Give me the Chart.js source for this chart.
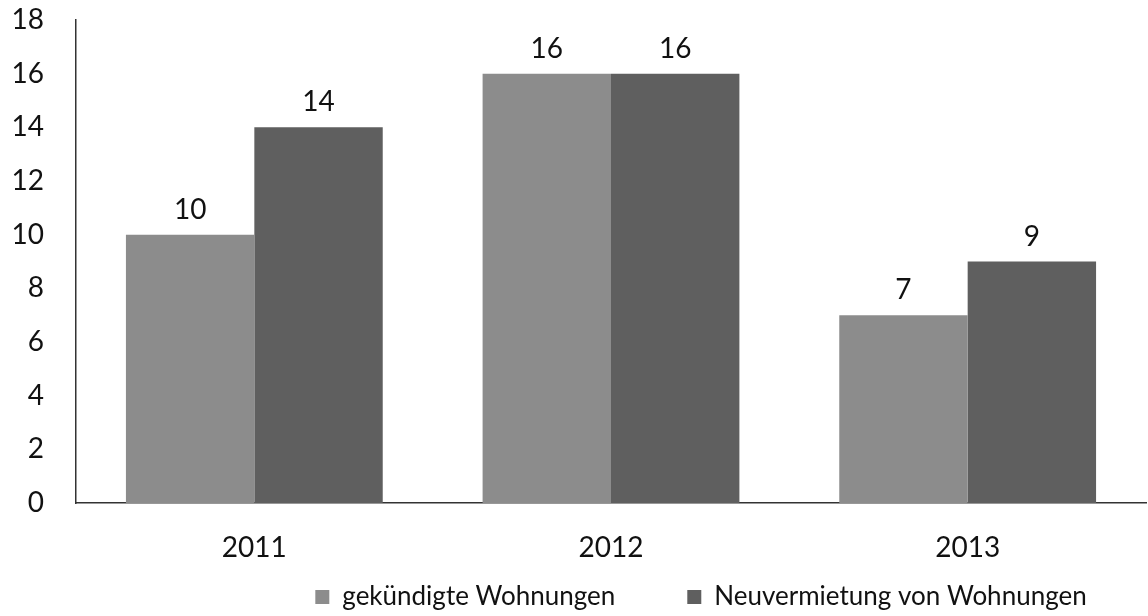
<!DOCTYPE html>
<html>
<head>
<meta charset="utf-8">
<script src="https://cdn.jsdelivr.net/npm/chart.js@4"></script>
<style>
  html, body { margin: 0; padding: 0; background: #fff; }
  #wrap { width: 1148px; height: 616px; }
</style>
</head>
<body>
<div id="wrap"><canvas id="chart"></canvas></div>
<script>
const years = ['2011', '2012', '2013'];
const gekuendigt = [10, 16, 7];
const neuvermietung = [14, 16, 9];
const seriesNames = ['gekündigte Wohnungen', 'Neuvermietung von Wohnungen'];

const FONT = 'Lato, "Open Sans", sans-serif';
const FONT_SIZE = 28;
const LEGEND_FONT = 26;
const LEGEND_GAP = 72;

// Werte über den Balken schreiben
const valueLabels = {
  id: 'valueLabels',
  afterDatasetsDraw(chart) {
    const ctx = chart.ctx;
    ctx.save();
    ctx.font = FONT_SIZE + 'px ' + FONT;
    ctx.fillStyle = '#111';
    ctx.textAlign = 'center';
    ctx.textBaseline = 'middle';
    chart.data.datasets.forEach((ds, i) => {
      chart.getDatasetMeta(i).data.forEach((bar, j) => {
        ctx.fillText(ds.data[j], bar.x, bar.y - 25);
      });
    });
    ctx.restore();
  }
};

// Legende etwas nach oben/rechts schieben (wie im Original)
const moveLegend = {
  id: 'moveLegend',
  afterLayout(chart) {
    const lg = chart.legend;
    if (!lg) return;
    lg.top = 597 - LEGEND_GAP - LEGEND_FONT / 2;
    lg.bottom = chart.height;
    lg.left += 128;
    lg.right += 128;
  }
};

new Chart(document.getElementById('chart'), {
  type: 'bar',
  data: {
    labels: years,
    datasets: [
      { label: seriesNames[0], data: gekuendigt, backgroundColor: '#8c8c8c' },
      { label: seriesNames[1], data: neuvermietung, backgroundColor: '#5f5f5f' }
    ]
  },
  plugins: [valueLabels, moveLegend],
  options: {
    responsive: true,
    maintainAspectRatio: false,
    animation: false,
    layout: { padding: { top: 0, right: 2, left: 0, bottom: 0 } },
    datasets: { bar: { categoryPercentage: 0.72, barPercentage: 1 } },
    scales: {
      x: {
        afterFit(scale) { scale.height = 62; },
        grid: { display: false, drawTicks: false },
        border: { display: true, color: '#333', width: 1.5 },
        ticks: { color: '#111', font: { family: FONT, size: FONT_SIZE }, padding: 28 }
      },
      y: {
        min: 0,
        max: 18,
        afterFit(scale) {
          scale.width = 76;
          scale.paddingTop = 20;
          scale.paddingBottom = 17;
        },
        grid: { display: false, drawTicks: false },
        border: { display: true, color: '#333', width: 1.5 },
        ticks: { stepSize: 2, color: '#111', font: { family: FONT, size: FONT_SIZE }, padding: 32 }
      }
    },
    plugins: {
      tooltip: { enabled: false },
      legend: {
        position: 'bottom',
        maxHeight: 51,
        labels: {
          color: '#111',
          font: { family: FONT, size: LEGEND_FONT },
          boxWidth: 14,
          boxHeight: 14,
          padding: LEGEND_GAP
        }
      }
    }
  }
});
</script>
</body>
</html>
